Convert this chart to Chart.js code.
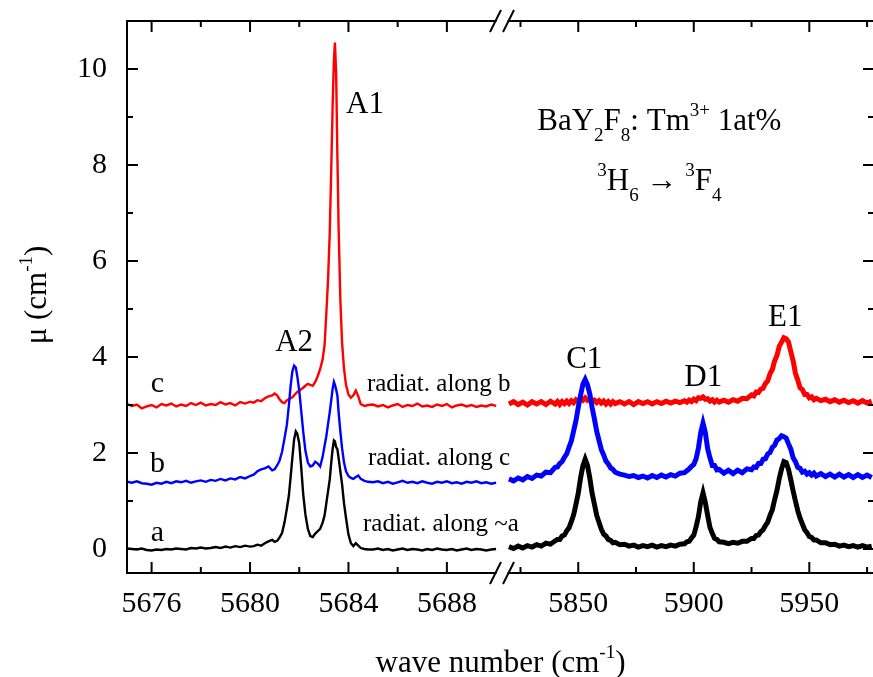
<!DOCTYPE html>
<html>
<head>
<meta charset="utf-8">
<title>BaY2F8:Tm absorption</title>
<script src="https://cdn.jsdelivr.net/npm/chart.js@4.4.1/dist/chart.umd.min.js"></script>
<style>
    html, body { margin: 0; padding: 0; background: #fff; overflow: hidden; }
    #wrap { width: 880px; height: 677px; }
</style>
</head>
<body>
<div id="wrap"><canvas id="spectrum"></canvas></div>
<script>
// Left window (A1 / A2 lines), wave number in cm-1
const leftWave = [
    5675.0, 5675.2, 5675.4, 5675.6, 5675.8, 5676.0, 5676.2, 5676.4, 5676.6, 5676.8,
    5677.0, 5677.2, 5677.4, 5677.6, 5677.8, 5678.0, 5678.2, 5678.4, 5678.6, 5678.8,
    5679.0, 5679.2, 5679.4, 5679.6, 5679.8, 5680.0,
    5680.15, 5680.3, 5680.45, 5680.6, 5680.75, 5680.9, 5681.0, 5681.1, 5681.2, 5681.3,
    5681.4, 5681.5, 5681.58, 5681.65, 5681.72, 5681.79, 5681.86, 5681.92, 5682.0, 5682.08,
    5682.16, 5682.25, 5682.35, 5682.45, 5682.55, 5682.65, 5682.75, 5682.85, 5682.95, 5683.03,
    5683.1, 5683.17, 5683.24, 5683.3, 5683.36, 5683.41, 5683.45, 5683.5, 5683.55, 5683.6,
    5683.67, 5683.74, 5683.82, 5683.9, 5684.0, 5684.1, 5684.2, 5684.3, 5684.4, 5684.5,
    5684.65, 5684.8,
    5685.0, 5685.2, 5685.4, 5685.6, 5685.8, 5686.0, 5686.2, 5686.4, 5686.6, 5686.8,
    5687.0, 5687.2, 5687.4, 5687.6, 5687.8, 5688.0, 5688.2, 5688.4, 5688.6, 5688.8,
    5689.0, 5689.2, 5689.4, 5689.6, 5689.8, 5690.0
];
// curve a (black) - radiation along ~a
const leftA = [
    0.01, 0.00, -0.01, 0.01, -0.02, -0.03, -0.01, -0.02, 0.00, -0.01,
    0.01, 0.00, -0.01, 0.02, 0.01, 0.03, 0.01, 0.02, 0.04, 0.02,
    0.05, 0.03, 0.06, 0.04, 0.07, 0.05,
    0.06, 0.09, 0.07, 0.12, 0.16, 0.19, 0.15, 0.17, 0.24, 0.33,
    0.55, 0.85, 1.12, 1.5, 1.9, 2.28, 2.45, 2.4, 2.2, 1.7,
    1.15, 0.72, 0.42, 0.27, 0.25, 0.32, 0.37, 0.42, 0.55, 0.7,
    0.95, 1.2, 1.45, 1.8, 2.1, 2.26, 2.24, 2.12, 2.08, 1.9,
    1.62, 1.35, 0.95, 0.65, 0.3, 0.12, 0.06, 0.12, 0.07, 0.02,
    0.0, -0.01,
    -0.01, 0.01, -0.02, 0.00, -0.03, -0.01, 0.01, -0.02, 0.00, -0.01,
    -0.03, 0.00, -0.02, 0.01, -0.01, -0.02, 0.00, -0.03, -0.01, 0.01,
    -0.02, 0.00, -0.01, -0.03, -0.01, 0.00
];
// curve b (blue) - radiation along c
const leftB = [
    1.40, 1.38, 1.41, 1.37, 1.36, 1.34, 1.38, 1.36, 1.40, 1.37,
    1.41, 1.39, 1.42, 1.38, 1.41, 1.43, 1.40, 1.44, 1.42, 1.46,
    1.43, 1.47, 1.45, 1.50, 1.47, 1.52,
    1.55, 1.62, 1.66, 1.68, 1.72, 1.64, 1.66, 1.74, 1.84, 2.02,
    2.3, 2.6, 3.0, 3.4, 3.7, 3.82, 3.78, 3.6, 3.3, 2.88,
    2.45, 2.05, 1.8, 1.72, 1.74, 1.82, 1.78, 1.72, 1.92, 2.15,
    2.35, 2.6, 2.85, 3.1, 3.35, 3.48, 3.42, 3.32, 3.2, 2.85,
    2.45, 2.1, 1.8, 1.62, 1.52, 1.48, 1.46, 1.5, 1.53, 1.46,
    1.42, 1.40,
    1.39, 1.41, 1.37, 1.40, 1.36, 1.39, 1.42, 1.38, 1.40, 1.37,
    1.41, 1.38, 1.36, 1.40, 1.38, 1.41, 1.37, 1.39, 1.36, 1.40,
    1.38, 1.41, 1.37, 1.39, 1.36, 1.38
];
// curve c (red) - radiation along b
const leftC = [
    3.02, 2.98, 3.01, 2.93, 2.97, 3.00, 2.95, 3.02, 2.99, 3.03,
    2.97, 3.01, 2.98, 3.04, 3.00, 3.05, 2.99, 3.02, 3.00, 3.06,
    3.01, 3.04, 2.99, 3.06, 3.03, 3.07,
    3.05, 3.10, 3.08, 3.14, 3.18, 3.2, 3.24, 3.2, 3.12, 3.06,
    3.04, 3.1, 3.12, 3.14, 3.16, 3.2, 3.24, 3.27, 3.3, 3.33,
    3.36, 3.4, 3.44, 3.42, 3.4, 3.48, 3.6, 3.75, 3.95, 4.25,
    4.9, 5.6, 6.6, 7.9, 9.3, 10.2, 10.55, 9.9, 8.2, 6.7,
    5.2, 4.3, 3.75, 3.42, 3.22, 3.15, 3.2, 3.3, 3.18, 3.02,
    2.98, 3.00,
    3.01, 2.97, 3.00, 2.95, 2.99, 3.02, 2.96, 3.00, 2.98, 3.03,
    2.97, 2.99, 2.96, 3.01, 2.98, 3.02, 2.95, 2.99, 3.01, 2.97,
    3.00, 2.96, 2.99, 2.97, 3.01, 2.98
];

// Right window (C1 / D1 / E1 lines)
const rightWave = [
    5820, 5822, 5824, 5826, 5828, 5830, 5832, 5834, 5836, 5838, 5840,
    5841, 5842, 5843, 5844, 5845, 5846, 5847, 5848, 5849, 5850, 5851, 5852, 5853,
    5854, 5855, 5856, 5857, 5858, 5859, 5860, 5861, 5862, 5863, 5864, 5865, 5866,
    5868, 5870, 5872, 5874, 5876, 5878, 5880, 5882, 5884, 5886, 5888, 5890, 5892, 5894, 5896,
    5897, 5898, 5899, 5900, 5901, 5902, 5903, 5904, 5905, 5906, 5907, 5908, 5909, 5910, 5911,
    5913, 5915, 5917, 5919, 5921, 5923, 5925,
    5926, 5927, 5928, 5929, 5930, 5931, 5932, 5933, 5934, 5935, 5936, 5937, 5938, 5939,
    5940, 5941, 5942, 5943, 5944, 5945, 5946, 5947, 5948, 5949, 5950, 5951, 5952, 5953,
    5955, 5957, 5959, 5961, 5963, 5965, 5967, 5969, 5971, 5973, 5975, 5977
];
const rightA = [
    0.05, 0.01, 0.06, 0.02, 0.07, 0.04, 0.09, 0.06, 0.12, 0.10, 0.17,
    0.20, 0.20, 0.27, 0.29, 0.38, 0.44, 0.57, 0.71, 0.93, 1.16, 1.48, 1.73, 1.87,
    1.74, 1.48, 1.16, 0.93, 0.70, 0.55, 0.41, 0.31, 0.27, 0.20, 0.18, 0.13, 0.14,
    0.09, 0.10, 0.06, 0.08, 0.04, 0.07, 0.05, 0.08, 0.04, 0.07, 0.05, 0.08, 0.06, 0.10, 0.11,
    0.15, 0.16, 0.23, 0.29, 0.46, 0.67, 0.98, 1.17, 0.97, 0.70, 0.45, 0.33, 0.22, 0.20, 0.15,
    0.14, 0.11, 0.14, 0.12, 0.16, 0.16, 0.22,
    0.22, 0.28, 0.29, 0.36, 0.40, 0.49, 0.56, 0.70, 0.82, 1.03, 1.22, 1.47, 1.67, 1.82,
    1.80, 1.66, 1.44, 1.21, 1.00, 0.80, 0.64, 0.52, 0.40, 0.34, 0.26, 0.24, 0.19, 0.19,
    0.13, 0.13, 0.09, 0.10, 0.06, 0.08, 0.05, 0.07, 0.04, 0.07, 0.04, 0.06
];
const rightB = [
    1.46, 1.42, 1.48, 1.44, 1.51, 1.47, 1.54, 1.52, 1.60, 1.59, 1.70,
    1.71, 1.78, 1.82, 1.91, 1.98, 2.12, 2.25, 2.46, 2.67, 2.95, 3.20, 3.43, 3.53,
    3.42, 3.23, 2.95, 2.71, 2.45, 2.26, 2.07, 1.96, 1.83, 1.77, 1.69, 1.66, 1.60,
    1.56, 1.54, 1.51, 1.53, 1.49, 1.52, 1.48, 1.53, 1.49, 1.54, 1.50, 1.55, 1.52, 1.58, 1.59,
    1.63, 1.67, 1.72, 1.76, 1.88, 2.10, 2.42, 2.62, 2.43, 2.09, 1.90, 1.74, 1.74, 1.65, 1.66,
    1.58, 1.64, 1.57, 1.64, 1.59, 1.67, 1.65,
    1.71, 1.70, 1.78, 1.78, 1.87, 1.88, 1.98, 2.01, 2.12, 2.16, 2.27, 2.30, 2.36, 2.34,
    2.31, 2.19, 2.08, 1.90, 1.82, 1.70, 1.68, 1.60, 1.62, 1.56, 1.59, 1.54, 1.58, 1.52,
    1.57, 1.51, 1.56, 1.50, 1.56, 1.50, 1.55, 1.49, 1.55, 1.49, 1.54, 1.49
];
const rightC = [
    3.02, 3.07, 3.01, 3.06, 3.00, 3.07, 3.02, 3.07, 3.01, 3.08, 3.02,
    3.07, 3.01, 3.07, 3.03, 3.08, 3.03, 3.09, 3.05, 3.11, 3.07, 3.13, 3.10, 3.15,
    3.10, 3.13, 3.07, 3.10, 3.05, 3.09, 3.04, 3.08, 3.02, 3.07, 3.02, 3.07, 3.03,
    3.07, 3.02, 3.07, 3.01, 3.07, 3.03, 3.07, 3.02, 3.07, 3.03, 3.08, 3.04, 3.08, 3.05, 3.09,
    3.06, 3.10, 3.07, 3.12, 3.09, 3.15, 3.14, 3.17, 3.12, 3.13, 3.08, 3.11, 3.06, 3.10, 3.06,
    3.10, 3.06, 3.11, 3.08, 3.14, 3.13, 3.21,
    3.19, 3.27, 3.26, 3.33, 3.35, 3.45, 3.50, 3.65, 3.74, 3.92, 4.03, 4.22, 4.31, 4.40,
    4.38, 4.31, 4.11, 3.92, 3.66, 3.52, 3.36, 3.32, 3.22, 3.22, 3.15, 3.17, 3.11, 3.14,
    3.09, 3.12, 3.07, 3.11, 3.06, 3.10, 3.05, 3.09, 3.04, 3.09, 3.04, 3.08
];

// Tick positions
const leftTicks = [5676, 5678, 5680, 5682, 5684, 5686, 5688];
const rightTicks = [5825, 5850, 5875, 5900, 5925, 5950, 5975];
const yTicks = [0, 1, 2, 3, 4, 5, 6, 7, 8, 9, 10];

const FONT = '"Liberation Serif", "Times New Roman", serif';

function toPoints(xs, ys) {
    return xs.map((x, i) => ({ x: x, y: ys[i] }));
}

// draws a string made of normal / superscript / subscript parts
function richText(ctx, parts, x, y, size, align) {
    const small = Math.round(size * 0.62);
    let width = 0;
    parts.forEach(p => {
        ctx.font = (p[1] ? small : size) + 'px ' + FONT;
        width += ctx.measureText(p[0]).width;
    });
    let cx = align === 'center' ? x - width / 2 : x;
    ctx.textAlign = 'left';
    ctx.textBaseline = 'alphabetic';
    parts.forEach(p => {
        ctx.font = (p[1] ? small : size) + 'px ' + FONT;
        let dy = 0;
        if (p[1] === 'sup') dy = -size * 0.45;
        if (p[1] === 'sub') dy = size * 0.36;
        ctx.fillText(p[0], cx, y + dy);
        cx += ctx.measureText(p[0]).width;
    });
}

// keep the plot box exactly where the fitted sizes put it
function noPadding(s) {
    s.paddingTop = 0;
    s.paddingBottom = 0;
    s.paddingLeft = 0;
    s.paddingRight = 0;
}

// Frame, inward ticks, axis break and all labels
const framePlugin = {
    id: 'frame',
    afterDraw(chart) {
        const ctx = chart.ctx;
        const a = chart.chartArea;
        const xL = chart.scales.xL, xR = chart.scales.xR, y = chart.scales.y;
        const breakL = xL.right - 6.5, breakR = xR.left + 6.5;

        function line(x1, y1, x2, y2) {
            ctx.beginPath();
            ctx.moveTo(x1, y1);
            ctx.lineTo(x2, y2);
            ctx.stroke();
        }

        ctx.save();
        ctx.strokeStyle = '#000';
        ctx.fillStyle = '#000';
        ctx.lineWidth = 2;
        ctx.lineCap = 'square';

        // axis lines, top and bottom broken at the gap
        line(a.left, a.top, a.left, a.bottom);
        line(a.right, a.top, a.right, a.bottom);
        [a.top, a.bottom].forEach(yy => {
            line(a.left, yy, breakL, yy);
            line(breakR, yy, a.right, yy);
        });
        ctx.lineCap = 'butt';
        [breakL, breakR].forEach(bx => {
            [a.top, a.bottom].forEach(yy => line(bx - 5.5, yy + 11, bx + 5.5, yy - 11));
        });

        // tick marks pointing inwards (major 11 px, minor 6 px)
        leftTicks.forEach(v => {
            const px = xL.getPixelForValue(v), len = v % 4 === 0 ? 11 : 6;
            line(px, a.bottom, px, a.bottom - len);
            line(px, a.top, px, a.top + len);
        });
        rightTicks.forEach(v => {
            const px = xR.getPixelForValue(v), len = v % 50 === 0 ? 11 : 6;
            line(px, a.bottom, px, a.bottom - len);
            line(px, a.top, px, a.top + len);
        });
        yTicks.forEach(v => {
            const py = y.getPixelForValue(v), len = v % 2 === 0 ? 11 : 6;
            line(a.left, py, a.left + len, py);
            line(a.right, py, a.right - len, py);
        });

        // peak names
        const peaks = [
            ['A1', xL, 5683.9, 9.08, 'left'],
            ['A2', xL, 5681.79, 4.12, 'center'],
            ['C1', xR, 5852.6, 3.78, 'center'],
            ['D1', xR, 5904.1, 3.39, 'center'],
            ['E1', xR, 5939.6, 4.64, 'center']
        ];
        peaks.forEach(p => {
            richText(ctx, [[p[0]]], p[1].getPixelForValue(p[2]), y.getPixelForValue(p[3]), 31, p[4]);
        });

        // curve letters and polarisation notes
        [['c', 3.27], ['b', 1.60], ['a', 0.17]].forEach(p => {
            richText(ctx, [[p[0]]], xL.getPixelForValue(5676.24), y.getPixelForValue(p[1]), 30, 'center');
        });
        [['radiat. along b', 5684.75, 3.30], ['radiat. along c', 5684.79, 1.74], ['radiat. along ~a', 5684.59, 0.38]].forEach(p => {
            richText(ctx, [[p[0]]], xL.getPixelForValue(p[1]), y.getPixelForValue(p[2]), 25, 'left');
        });

        // sample and transition
        const tx = xR.getPixelForValue(5885.1);
        richText(ctx, [['BaY'], ['2', 'sub'], ['F'], ['8', 'sub'], [': Tm'], ['3+', 'sup'], [' 1at%']],
            tx, y.getPixelForValue(8.73), 31, 'center');
        richText(ctx, [['3', 'sup'], ['H'], ['6', 'sub'], [' \u2192 '], ['3', 'sup'], ['F'], ['4', 'sub']],
            tx, y.getPixelForValue(7.48), 31, 'center');

        // axis titles
        richText(ctx, [['wave number (cm'], ['-1', 'sup'], [')']], (a.left + a.right) / 2, 672, 31, 'center');
        ctx.translate(46, 295);
        ctx.rotate(-Math.PI / 2);
        richText(ctx, [['\u03bc (cm'], ['-1', 'sup'], [')']], 0, 0, 31, 'center');
        ctx.restore();
    }
};

const ctx = document.getElementById('spectrum').getContext('2d');

function series(data, axis, color, width, order) {
    return {
        data: data,
        xAxisID: axis,
        yAxisID: 'y',
        borderColor: color,
        backgroundColor: color,
        borderWidth: width,
        pointRadius: 0,
        showLine: true,
        tension: 0,
        order: order
    };
}

const chart = new Chart(ctx, {
    type: 'scatter',
    data: {
        datasets: [
            series(toPoints(leftWave, leftA), 'xL', '#000000', 2.4, 0),
            series(toPoints(leftWave, leftB), 'xL', '#0000ff', 2.4, 1),
            series(toPoints(leftWave, leftC), 'xL', '#ff0000', 2.4, 2),
            series(toPoints(rightWave, rightA), 'xR', '#000000', 5, 0),
            series(toPoints(rightWave, rightB), 'xR', '#0000ff', 5, 1),
            series(toPoints(rightWave, rightC), 'xR', '#ff0000', 5, 2)
        ]
    },
    options: {
        responsive: true,
        maintainAspectRatio: false,
        animation: false,
        layout: { padding: { left: 0, top: 21, right: 6, bottom: 0 } },
        plugins: {
            legend: { display: false },
            tooltip: { enabled: false }
        },
        scales: {
            xL: {
                type: 'linear',
                position: 'bottom',
                stack: 'wave',
                stackWeight: 375,
                min: 5675,
                max: 5690.24,
                grid: { display: false },
                border: { display: false },
                afterBuildTicks: s => { s.ticks = leftTicks.map(v => ({ value: v })); },
                afterFit: s => { s.height = 104; noPadding(s); },
                ticks: {
                    autoSkip: false, maxRotation: 0, minRotation: 0, padding: 5, color: '#000',
                    font: { family: FONT, size: 30 },
                    callback: v => (v % 4 === 0 ? String(v) : '')
                }
            },
            xR: {
                type: 'linear',
                position: 'bottom',
                stack: 'wave',
                stackWeight: 372,
                min: 5817,
                max: 5978,
                grid: { display: false },
                border: { display: false },
                afterBuildTicks: s => { s.ticks = rightTicks.map(v => ({ value: v })); },
                afterFit: s => { s.height = 104; noPadding(s); },
                ticks: {
                    autoSkip: false, maxRotation: 0, minRotation: 0, padding: 5, color: '#000',
                    font: { family: FONT, size: 30 },
                    callback: v => (v % 50 === 0 ? String(v) : '')
                }
            },
            y: {
                type: 'linear',
                position: 'left',
                min: -0.5,
                max: 11,
                grid: { display: false },
                border: { display: false },
                afterBuildTicks: s => { s.ticks = yTicks.map(v => ({ value: v })); },
                afterFit: s => { s.width = 127; noPadding(s); },
                ticks: {
                    padding: 12, color: '#000',
                    font: { family: FONT, size: 30 },
                    callback: v => (v % 2 === 0 ? String(v) : '')
                }
            }
        }
    },
    plugins: [framePlugin]
});
</script>
</body>
</html>
